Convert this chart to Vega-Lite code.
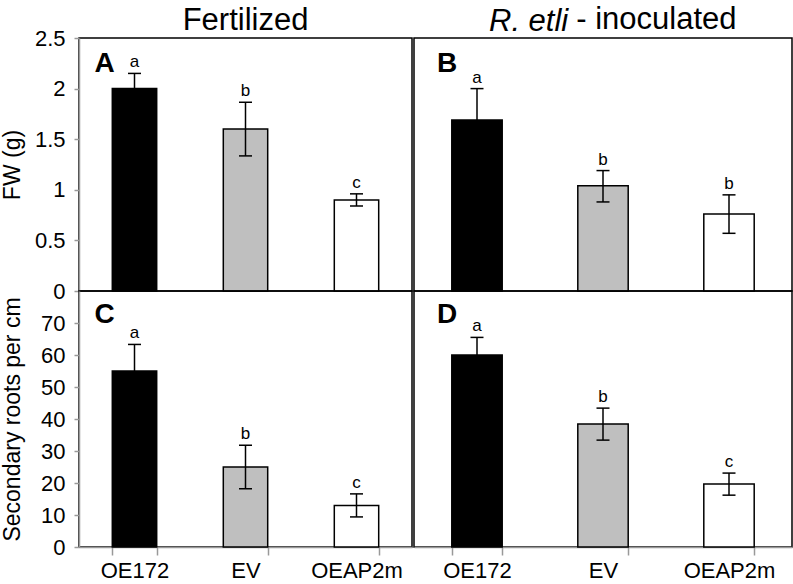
{
  "$schema": "https://vega.github.io/schema/vega-lite/v6.json",
  "background": "white",
  "padding": {"left": 0, "top": 4, "right": 0, "bottom": 0},
  "spacing": 0,
  "config": {
    "font": "Liberation Sans",
    "view": {"stroke": "black", "strokeWidth": 1.5},
    "title": {"fontSize": 31, "fontWeight": "normal", "color": "black", "anchor": "middle", "offset": -10},
    "axis": {"grid": false, "labelOverlap": false, "domainColor": "#999999", "domainWidth": 1.5, "tickColor": "#999999", "tickWidth": 1.5, "labelColor": "black", "titleColor": "black", "labelFont": "Liberation Sans", "titleFont": "Liberation Sans", "titleFontWeight": "normal"}
  },
  "datasets": {
    "bars": [
      {"panel": "A", "cat": "OE172", "val": 2.0, "lo": 1.85, "hi": 2.15, "sig": "a"},
      {"panel": "A", "cat": "EV", "val": 1.6, "lo": 1.335, "hi": 1.865, "sig": "b"},
      {"panel": "A", "cat": "OEAP2m", "val": 0.9, "lo": 0.84, "hi": 0.96, "sig": "c"},
      {"panel": "B", "cat": "OE172", "val": 1.69, "lo": 1.38, "hi": 2.0, "sig": "a"},
      {"panel": "B", "cat": "EV", "val": 1.04, "lo": 0.88, "hi": 1.19, "sig": "b"},
      {"panel": "B", "cat": "OEAP2m", "val": 0.76, "lo": 0.57, "hi": 0.95, "sig": "b"},
      {"panel": "C", "cat": "OE172", "val": 55, "lo": 46.7, "hi": 63.3, "sig": "a"},
      {"panel": "C", "cat": "EV", "val": 25, "lo": 18.2, "hi": 31.8, "sig": "b"},
      {"panel": "C", "cat": "OEAP2m", "val": 13, "lo": 9.4, "hi": 16.6, "sig": "c"},
      {"panel": "D", "cat": "OE172", "val": 60, "lo": 54.5, "hi": 65.5, "sig": "a"},
      {"panel": "D", "cat": "EV", "val": 38.4, "lo": 33.4, "hi": 43.4, "sig": "b"},
      {"panel": "D", "cat": "OEAP2m", "val": 19.7, "lo": 16.2, "hi": 23.1, "sig": "c"}
    ]
  },
  "resolve": {"scale": {"x": "independent", "y": "independent", "fill": "independent"}},
  "hconcat": [
    {
      "spacing": 0,
      "bounds": "flush",
      "resolve": {"scale": {"x": "independent", "y": "independent", "fill": "independent"}},
      "vconcat": [
        {
          "width": 333, "height": 253,
          "title": {"text": "Fertilized"},
          "data": {"name": "bars"},
          "transform": [{"filter": "datum.panel === 'A'"}],
          "encoding": {
            "x": {"field": "cat", "type": "nominal", "sort": ["OE172", "EV", "OEAP2m"], "scale": {"paddingInner": 0.6, "paddingOuter": 0.3}, "axis": null}
          },
          "layer": [
            {"mark": {"type": "bar", "stroke": "black", "strokeWidth": 1.5},
             "encoding": {
               "y": {"field": "val", "type": "quantitative", "title": "FW (g)", "scale": {"domain": [0, 2.5], "nice": false, "zero": true},
                     "axis": {"values": [0, 0.5, 1, 1.5, 2, 2.5], "tickCount": 10, "format": "~g", "labelOverlap": false, "tickSize": 5, "labelPadding": 9, "labelFontSize": 22, "titleFontSize": 23, "titlePadding": 10}},
               "fill": {"field": "cat", "type": "nominal", "scale": {"domain": ["OE172", "EV", "OEAP2m"], "range": ["#000000", "#bfbfbf", "#ffffff"]}, "legend": null}
             }},
            {"mark": {"type": "rule", "strokeWidth": 1.5, "color": "black"},
             "encoding": {"y": {"field": "lo", "type": "quantitative", "title": "FW (g)",
                     "axis": {"values": [0, 0.5, 1, 1.5, 2, 2.5], "tickCount": 10, "format": "~g", "labelOverlap": false, "tickSize": 5, "labelPadding": 9, "labelFontSize": 22, "titleFontSize": 23, "titlePadding": 10}}, "y2": {"field": "hi"}}},
            {"mark": {"type": "tick", "size": 13, "thickness": 1.5, "color": "black", "opacity": 1},
             "encoding": {"y": {"field": "hi", "type": "quantitative", "title": "FW (g)",
                     "axis": {"values": [0, 0.5, 1, 1.5, 2, 2.5], "tickCount": 10, "format": "~g", "labelOverlap": false, "tickSize": 5, "labelPadding": 9, "labelFontSize": 22, "titleFontSize": 23, "titlePadding": 10}}}},
            {"mark": {"type": "tick", "size": 13, "thickness": 1.5, "color": "black", "opacity": 1},
             "encoding": {"y": {"field": "lo", "type": "quantitative", "title": "FW (g)",
                     "axis": {"values": [0, 0.5, 1, 1.5, 2, 2.5], "tickCount": 10, "format": "~g", "labelOverlap": false, "tickSize": 5, "labelPadding": 9, "labelFontSize": 22, "titleFontSize": 23, "titlePadding": 10}}}},
            {"mark": {"type": "text", "baseline": "alphabetic", "dy": -6, "fontSize": 17, "color": "black"},
             "encoding": {"y": {"field": "hi", "type": "quantitative", "title": "FW (g)",
                     "axis": {"values": [0, 0.5, 1, 1.5, 2, 2.5], "tickCount": 10, "format": "~g", "labelOverlap": false, "tickSize": 5, "labelPadding": 9, "labelFontSize": 22, "titleFontSize": 23, "titlePadding": 10}}, "text": {"field": "sig"}}},
            {"transform": [{"filter": "datum.cat === 'OE172'"}],
             "mark": {"type": "text", "fontWeight": "bold", "fontSize": 28, "align": "center", "baseline": "alphabetic", "dx": -30, "dy": 34, "color": "black"},
             "encoding": {"y": {"datum": 2.5}, "text": {"field": "panel"}}}
          ]
        },
        {
          "width": 333, "height": 256,
          "data": {"name": "bars"},
          "transform": [{"filter": "datum.panel === 'C'"}],
          "encoding": {
            "x": {"field": "cat", "type": "nominal", "sort": ["OE172", "EV", "OEAP2m"], "scale": {"paddingInner": 0.6, "paddingOuter": 0.3},
                  "axis": {"title": null, "labelAngle": 0, "tickBand": "extent", "tickSize": 8, "labelFontSize": 22, "labelPadding": 5}}
          },
          "layer": [
            {"mark": {"type": "bar", "stroke": "black", "strokeWidth": 1.5},
             "encoding": {
               "y": {"field": "val", "type": "quantitative", "title": "Secondary roots per cm", "scale": {"domain": [0, 80], "nice": false, "zero": true},
                     "axis": {"values": [0, 10, 20, 30, 40, 50, 60, 70], "tickCount": 10, "labelOverlap": false, "tickSize": 5, "labelPadding": 9, "labelFontSize": 22, "titleFontSize": 23, "titlePadding": 16}},
               "fill": {"field": "cat", "type": "nominal", "scale": {"domain": ["OE172", "EV", "OEAP2m"], "range": ["#000000", "#bfbfbf", "#ffffff"]}, "legend": null}
             }},
            {"mark": {"type": "rule", "strokeWidth": 1.5, "color": "black"},
             "encoding": {"y": {"field": "lo", "type": "quantitative", "title": "Secondary roots per cm",
                     "axis": {"values": [0, 10, 20, 30, 40, 50, 60, 70], "tickCount": 10, "labelOverlap": false, "tickSize": 5, "labelPadding": 9, "labelFontSize": 22, "titleFontSize": 23, "titlePadding": 16}}, "y2": {"field": "hi"}}},
            {"mark": {"type": "tick", "size": 13, "thickness": 1.5, "color": "black", "opacity": 1},
             "encoding": {"y": {"field": "hi", "type": "quantitative", "title": "Secondary roots per cm",
                     "axis": {"values": [0, 10, 20, 30, 40, 50, 60, 70], "tickCount": 10, "labelOverlap": false, "tickSize": 5, "labelPadding": 9, "labelFontSize": 22, "titleFontSize": 23, "titlePadding": 16}}}},
            {"mark": {"type": "tick", "size": 13, "thickness": 1.5, "color": "black", "opacity": 1},
             "encoding": {"y": {"field": "lo", "type": "quantitative", "title": "Secondary roots per cm",
                     "axis": {"values": [0, 10, 20, 30, 40, 50, 60, 70], "tickCount": 10, "labelOverlap": false, "tickSize": 5, "labelPadding": 9, "labelFontSize": 22, "titleFontSize": 23, "titlePadding": 16}}}},
            {"mark": {"type": "text", "baseline": "alphabetic", "dy": -6, "fontSize": 17, "color": "black"},
             "encoding": {"y": {"field": "hi", "type": "quantitative", "title": "Secondary roots per cm",
                     "axis": {"values": [0, 10, 20, 30, 40, 50, 60, 70], "tickCount": 10, "labelOverlap": false, "tickSize": 5, "labelPadding": 9, "labelFontSize": 22, "titleFontSize": 23, "titlePadding": 16}}, "text": {"field": "sig"}}},
            {"transform": [{"filter": "datum.cat === 'OE172'"}],
             "mark": {"type": "text", "fontWeight": "bold", "fontSize": 28, "align": "center", "baseline": "alphabetic", "dx": -30, "dy": 32, "color": "black"},
             "encoding": {"y": {"datum": 80}, "text": {"field": "panel"}}}
          ]
        }
      ]
    },
    {
      "spacing": 0,
      "bounds": "flush",
      "title": {"text": "- inoculated", "anchor": "start", "dx": 163, "offset": -31},
      "resolve": {"scale": {"x": "independent", "y": "independent", "fill": "independent"}},
      "vconcat": [
        {
          "width": 378, "height": 253,
          "title": {"text": "R. etli", "fontStyle": "italic", "anchor": "start", "dx": 75, "offset": 0},
          "data": {"name": "bars"},
          "transform": [{"filter": "datum.panel === 'B'"}],
          "encoding": {
            "x": {"field": "cat", "type": "nominal", "sort": ["OE172", "EV", "OEAP2m"], "scale": {"paddingInner": 0.6, "paddingOuter": 0.3}, "axis": null}
          },
          "layer": [
            {"mark": {"type": "bar", "stroke": "black", "strokeWidth": 1.5},
             "encoding": {
               "y": {"field": "val", "type": "quantitative", "scale": {"domain": [0, 2.5], "nice": false, "zero": true}, "axis": null},
               "fill": {"field": "cat", "type": "nominal", "scale": {"domain": ["OE172", "EV", "OEAP2m"], "range": ["#000000", "#bfbfbf", "#ffffff"]}, "legend": null}
             }},
            {"mark": {"type": "rule", "strokeWidth": 1.5, "color": "black"},
             "encoding": {"y": {"field": "lo", "type": "quantitative", "axis": null}, "y2": {"field": "hi"}}},
            {"mark": {"type": "tick", "size": 13, "thickness": 1.5, "color": "black", "opacity": 1},
             "encoding": {"y": {"field": "hi", "type": "quantitative", "axis": null}}},
            {"mark": {"type": "tick", "size": 13, "thickness": 1.5, "color": "black", "opacity": 1},
             "encoding": {"y": {"field": "lo", "type": "quantitative", "axis": null}}},
            {"mark": {"type": "text", "baseline": "alphabetic", "dy": -6, "fontSize": 17, "color": "black"},
             "encoding": {"y": {"field": "hi", "type": "quantitative", "axis": null}, "text": {"field": "sig"}}},
            {"transform": [{"filter": "datum.cat === 'OE172'"}],
             "mark": {"type": "text", "fontWeight": "bold", "fontSize": 28, "align": "center", "baseline": "alphabetic", "dx": -30, "dy": 34, "color": "black"},
             "encoding": {"y": {"datum": 2.5}, "text": {"field": "panel"}}}
          ]
        },
        {
          "width": 378, "height": 256,
          "data": {"name": "bars"},
          "transform": [{"filter": "datum.panel === 'D'"}],
          "encoding": {
            "x": {"field": "cat", "type": "nominal", "sort": ["OE172", "EV", "OEAP2m"], "scale": {"paddingInner": 0.6, "paddingOuter": 0.3},
                  "axis": {"title": null, "labelAngle": 0, "tickBand": "extent", "tickSize": 8, "labelFontSize": 22, "labelPadding": 5}}
          },
          "layer": [
            {"mark": {"type": "bar", "stroke": "black", "strokeWidth": 1.5},
             "encoding": {
               "y": {"field": "val", "type": "quantitative", "scale": {"domain": [0, 80], "nice": false, "zero": true}, "axis": null},
               "fill": {"field": "cat", "type": "nominal", "scale": {"domain": ["OE172", "EV", "OEAP2m"], "range": ["#000000", "#bfbfbf", "#ffffff"]}, "legend": null}
             }},
            {"mark": {"type": "rule", "strokeWidth": 1.5, "color": "black"},
             "encoding": {"y": {"field": "lo", "type": "quantitative", "axis": null}, "y2": {"field": "hi"}}},
            {"mark": {"type": "tick", "size": 13, "thickness": 1.5, "color": "black", "opacity": 1},
             "encoding": {"y": {"field": "hi", "type": "quantitative", "axis": null}}},
            {"mark": {"type": "tick", "size": 13, "thickness": 1.5, "color": "black", "opacity": 1},
             "encoding": {"y": {"field": "lo", "type": "quantitative", "axis": null}}},
            {"mark": {"type": "text", "baseline": "alphabetic", "dy": -6, "fontSize": 17, "color": "black"},
             "encoding": {"y": {"field": "hi", "type": "quantitative", "axis": null}, "text": {"field": "sig"}}},
            {"transform": [{"filter": "datum.cat === 'OE172'"}],
             "mark": {"type": "text", "fontWeight": "bold", "fontSize": 28, "align": "center", "baseline": "alphabetic", "dx": -30, "dy": 32, "color": "black"},
             "encoding": {"y": {"datum": 80}, "text": {"field": "panel"}}}
          ]
        }
      ]
    }
  ]
}
